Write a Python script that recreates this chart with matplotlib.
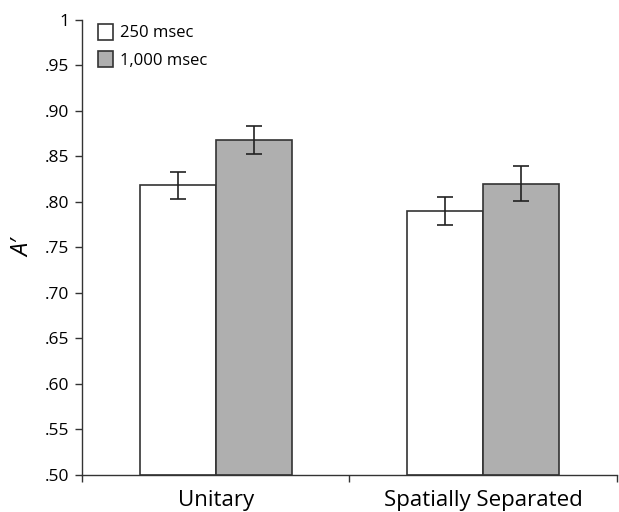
import numpy as np
import matplotlib
matplotlib.use("Agg")
import matplotlib.pyplot as plt

plt.rcParams["font.family"] = ["Open Sans", "DejaVu Sans"]

categories = ["Unitary", "Spatially Separated"]
series_names = ["250 msec", "1,000 msec"]
means_250 = [0.818, 0.790]
means_1000 = [0.868, 0.820]
err_250 = [0.015, 0.015]
err_1000 = [0.015, 0.019]
yticks = [0.50, 0.55, 0.60, 0.65, 0.70, 0.75, 0.80, 0.85, 0.90, 0.95, 1.0]
yticklabels = [".50", ".55", ".60", ".65", ".70", ".75", ".80", ".85", ".90", ".95", "1"]

fig = plt.figure(figsize=(6.19, 5.12), dpi=100)
ax = fig.add_axes([0.1325, 0.0723, 0.864, 0.889])

x = np.arange(len(categories)) + 0.5
w = 0.285
edge = "#333333"

ax.bar(x - w / 2, np.array(means_250) - 0.5, w, bottom=0.5, color="white",
       edgecolor=edge, linewidth=1.2, label=series_names[0])
ax.bar(x + w / 2, np.array(means_1000) - 0.5, w, bottom=0.5, color="#afafaf",
       edgecolor=edge, linewidth=1.2, label=series_names[1])
ax.errorbar(x - w / 2, means_250, yerr=err_250, fmt="none", ecolor="#222222",
            elinewidth=1.2, capsize=6, capthick=1.2)
ax.errorbar(x + w / 2, means_1000, yerr=err_1000, fmt="none", ecolor="#222222",
            elinewidth=1.2, capsize=6, capthick=1.2)

ax.set_xlim(0, 2)
ax.set_ylim(0.5, 1.0)
ax.set_yticks(yticks)
ax.set_yticklabels(yticklabels, fontsize=12.5)
ax.set_xticks([0, 1, 2])
ax.set_xticklabels([])
ax.set_xticks(x, minor=True)
ax.set_xticklabels(categories, minor=True, fontsize=16)
ax.tick_params(axis="x", which="minor", length=0, pad=11)
ax.tick_params(axis="both", which="major", length=5, width=1, color="#333333")
ax.tick_params(axis="y", pad=4)
ax.spines["top"].set_visible(False)
ax.spines["right"].set_visible(False)
for s in ["left", "bottom"]:
    ax.spines[s].set_color("#333333")
    ax.spines[s].set_linewidth(1)

ax.set_ylabel("A\u2032", fontsize=17, style="italic", labelpad=7)

ax.legend(loc="upper left", frameon=False, fontsize=12, handlelength=0.9,
          handleheight=1.1, handletextpad=0.4, borderaxespad=0.0,
          bbox_to_anchor=(0.018, 1.006), labelspacing=0.6)

fig.savefig("out.png", dpi=100)
